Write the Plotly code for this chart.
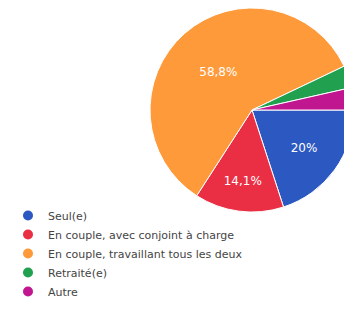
import plotly.graph_objects as go

categories = ["Seul(e)", "En couple, avec conjoint à charge",
              "En couple, travaillant tous les deux", "Retraité(e)", "Autre"]
counts = [17, 12, 50, 3, 3]
colors = ["#2c58c2", "#ea2f45", "#ff9a3a", "#21a14f", "#c0168f"]
show_label = [True, True, True, False, False]

W, H = 352, 312
cx, cy, r = 244, 102, 102

fig = go.Figure()
fig.add_trace(go.Pie(
    labels=categories, values=counts, sort=False, direction="clockwise",
    rotation=90,
    marker=dict(colors=colors, line=dict(color="white", width=1)),
    texttemplate=["%{percent:.1~%}" if s else "" for s in show_label],
    textposition="inside", insidetextorientation="horizontal",
    textfont=dict(color="white", size=12, family="DejaVu Sans"),
    showlegend=False, hoverinfo="label+percent",
    domain=dict(x=[(cx - r) / W, min(1, (cx + r) / W)],
                y=[max(0, (H - cy - r) / H), min(1, (H - cy + r) / H)]),
))
for name, col in zip(categories, colors):
    fig.add_trace(go.Scatter(x=[None], y=[None], mode="markers", name=name,
                             marker=dict(color=col, size=10, symbol="circle"),
                             showlegend=True))

fig.update_layout(
    width=W, height=H, margin=dict(l=0, r=0, t=0, b=0),
    paper_bgcolor="white", plot_bgcolor="white",
    separators=", ",
    xaxis=dict(visible=False), yaxis=dict(visible=False),
    font=dict(family="DejaVu Sans", size=11, color="#444"),
    legend=dict(x=0, y=(H - 193) / H, xanchor="left", yanchor="top",
                font=dict(size=11, color="#444", family="DejaVu Sans"),
                bgcolor="rgba(0,0,0,0)",
                itemwidth=30, tracegroupgap=0),
)
fig.write_html("out.html")
